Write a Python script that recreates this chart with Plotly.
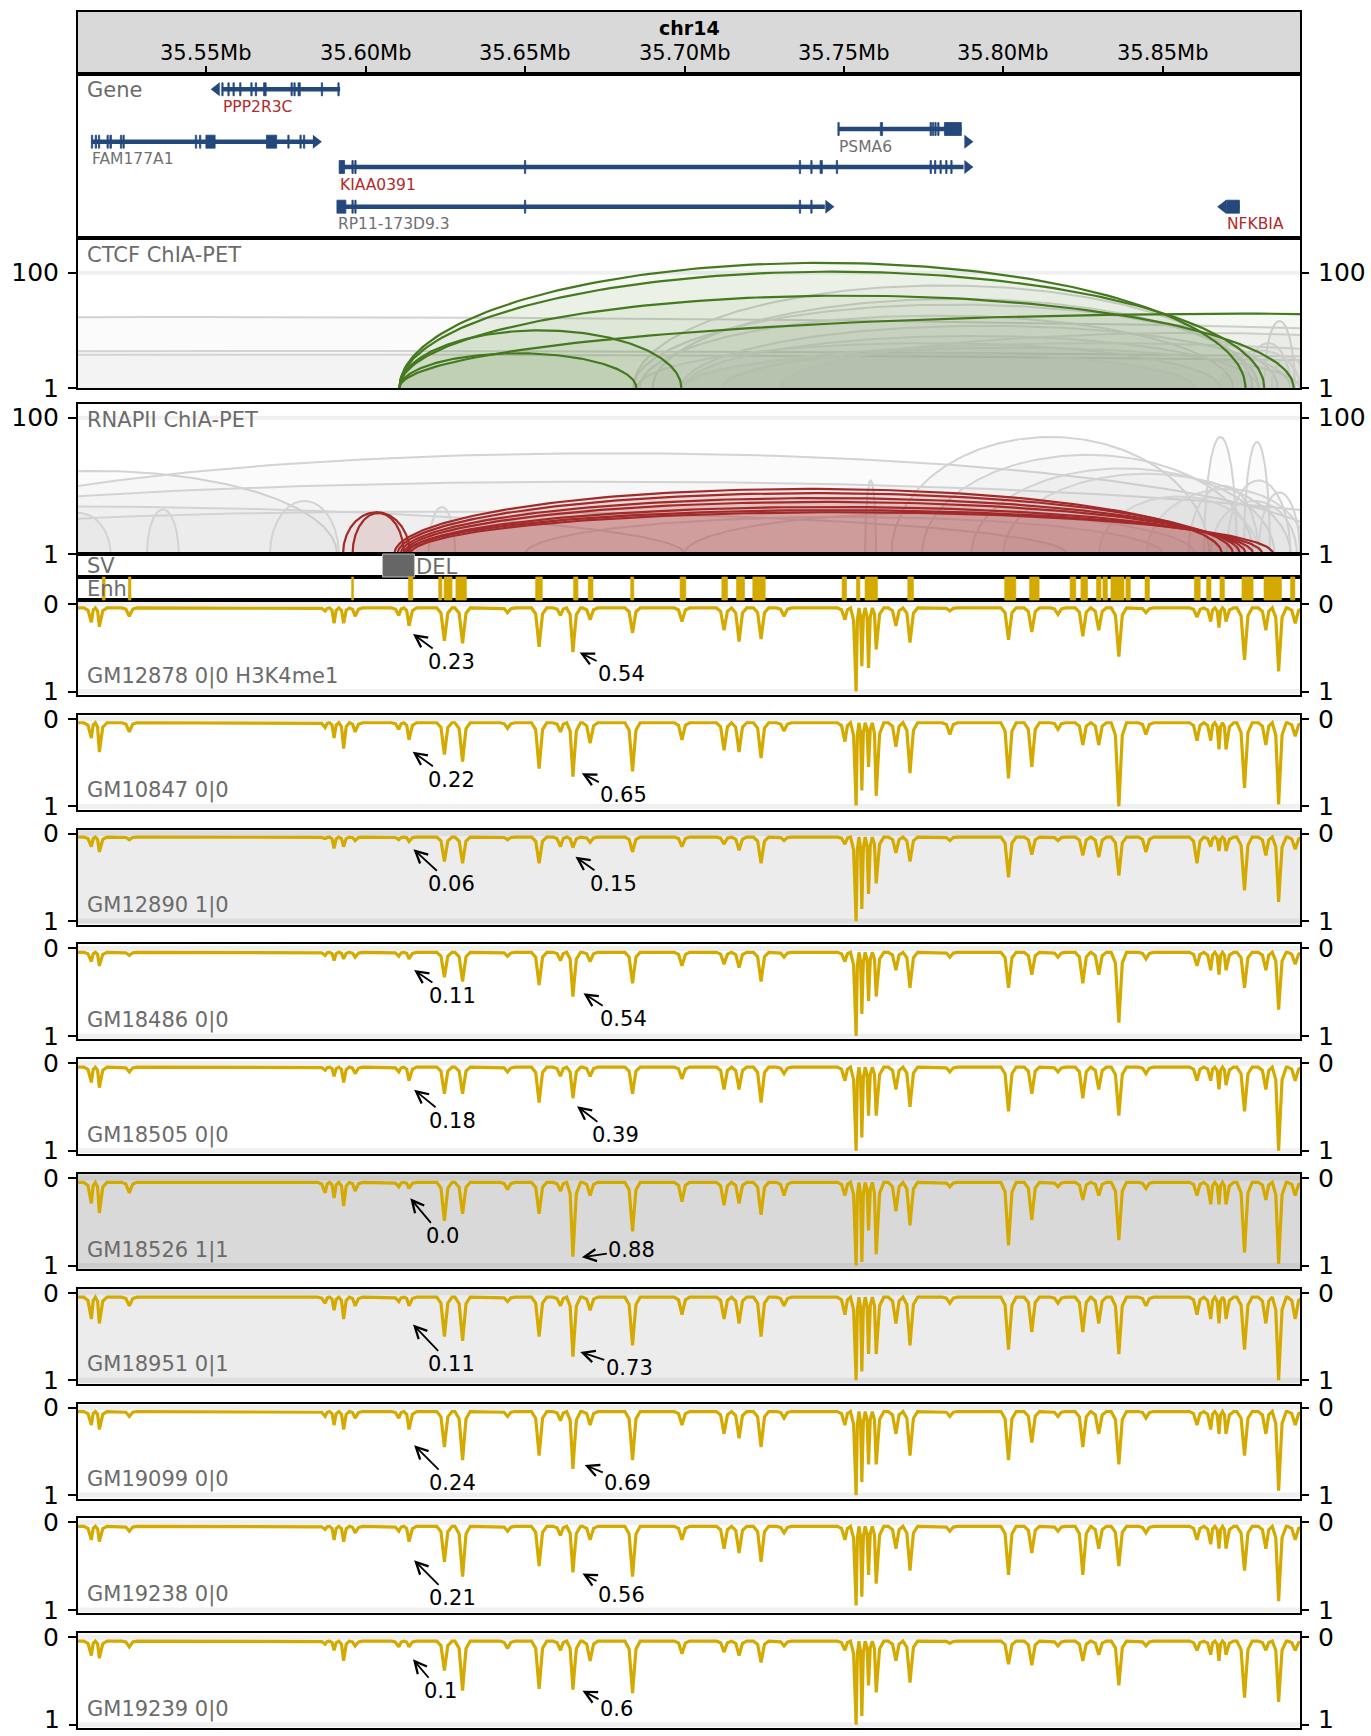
import math
import plotly.graph_objects as go

W, H = 1371, 1736
PLOT_L, PLOT_R = 78, 1300
X_RANGE = [35509.8, 35893.0]   # genomic window, kb on chr14
FONT = "DejaVu Sans"

# ---------------- header ticks ----------------
TICK_KB = [35550, 35600, 35650, 35700, 35750, 35800, 35850]
TICK_TXT = ["35.55Mb", "35.60Mb", "35.65Mb", "35.70Mb", "35.75Mb", "35.80Mb", "35.85Mb"]

# ---------------- genes ----------------
GENE_NAMES = ["PPP2R3C", "FAM177A1", "KIAA0391", "RP11-173D9.3", "PSMA6", "NFKBIA"]
GENE_START = [35554.9, 35514.0, 35591.7, 35591.0, 35748.1, 35869.9]
GENE_END = [35592.0, 35583.5, 35787.5, 35744.0, 35786.8, 35874.0]
GENE_LANE = [15.3, 67.7, 93.0, 132.7, 55.0, 132.7]
GENE_ARROW_KB = [35553.3, 35584.4, 35788.7, 35745.1, 35788.7, 35868.9]
GENE_ARROW_LANE = [15.3, 67.7, 93.0, 132.7, 67.7, 132.7]
GENE_STRAND = ["-", "+", "+", "+", "+", "-"]
GENE_LABEL_RED = [True, False, True, False, False, True]
GENE_EXONS = [
    [(35554.9, 35555.3), (35556.8, 35557.2), (35558.4, 35558.8), (35560.5, 35560.9), (35564.0, 35564.4),
     (35565.4, 35565.8), (35568.0, 35568.8), (35576.6, 35577.0), (35577.5, 35577.9), (35578.8, 35579.5),
     (35586.1, 35586.5), (35591.3, 35591.7)],
    [(35514.0, 35514.4), (35515.2, 35515.6), (35516.2, 35516.6), (35518.9, 35519.3), (35519.8, 35520.3),
     (35523.1, 35523.5), (35523.9, 35524.3), (35546.6, 35547.0), (35547.9, 35548.3), (35549.9, 35552.8),
     (35568.9, 35572.1), (35575.6, 35576.0), (35579.4, 35579.8), (35580.5, 35580.9)],
    [(35591.7, 35593.4), (35595.7, 35596.1), (35596.6, 35597.0), (35649.8, 35650.2), (35736.0, 35736.4),
     (35739.6, 35740.0), (35742.5, 35743.2), (35747.6, 35748.0), (35777.0, 35777.4), (35778.4, 35778.8),
     (35780.1, 35780.5), (35781.9, 35782.3), (35783.5, 35783.9)],
    [(35591.0, 35593.8), (35595.7, 35596.1), (35596.6, 35597.0), (35649.8, 35650.2), (35736.0, 35736.4),
     (35739.6, 35740.0)],
    [(35748.1, 35748.5), (35761.4, 35762.1), (35777.0, 35777.4), (35777.7, 35778.1), (35778.5, 35778.9),
     (35779.4, 35779.8), (35781.5, 35786.8)],
    [(35869.9, 35874.0)],
]

# ---------------- ChIA-PET loops: (anchor1 kb, anchor2 kb, PET count) ----------------
CTCF_GRAY = [(34900, 36200, 17), (34800, 36300, 4.4), (34850, 36250, 3.8),
             (35684, 35878, 60), (35690, 35880, 35), (35684, 35886, 28), (35686, 35872, 18),
             (35699, 35890, 12), (35700, 35880, 8), (35685, 35868, 6), (35712, 35893, 5),
             (35699, 35860, 4), (35730, 35990, 9), (35700, 35960, 6), (35881.7, 35891.4, 14.5),
             (35876, 35890, 6), (35884, 35895, 3.5), (35868, 35893, 4.5)]
CTCF_HIGHLIGHT = [(35610.6, 35684.9, 4.0), (35610.6, 35699.0, 10.0), (35610.6, 35875.9, 148),
                  (35610.6, 35881.8, 104), (35610.6, 35891.0, 40), (35610.6, 36150, 19.5)]
RNA_GRAY = [(35440, 35591, 16.5), (35450, 35905, 30), (35400, 35950, 11.5), (35300, 35700, 5),
            (35420, 35820, 4.2), (35570, 35591.6, 6), (35531.4, 35541.4, 4.5), (35500, 35520, 4),
            (35619.7, 35628.1, 4.9), (35764.9, 35864.5, 52), (35774.5, 35878.3, 28.5),
            (35790, 35885, 18), (35800, 35890, 15), (35862.9, 35873.2, 52), (35875.4, 35883.6, 44),
            (35858, 35880, 10), (35870, 35890, 12), (35880, 35893, 8), (35865, 35892, 6),
            (35756.6, 35760.1, 12), (35700, 35860, 4), (35650, 35850, 3.5), (35830, 35880, 7),
            (35845, 35895, 9)]
RNA_HIGHLIGHT = [(35592.9, 35613.9, 4.1), (35595.9, 35612.0, 4.0), (35609, 35868.5, 9.0),
                 (35610, 35872, 7.8), (35611, 35874.2, 6.6), (35612, 35876, 5.8), (35613, 35878.3, 4.9),
                 (35612.5, 35881.2, 4.4), (35614, 35884.6, 4.1)]

# ---------------- SV / enhancers ----------------
SV_START, SV_END = 35605.3, 35615.3
ENH = [(35517.4, 35518.3), (35525.6, 35526.4), (35595.6, 35596.2), (35613.4, 35614.8), (35622.9, 35623.9),
       (35624.6, 35627.1), (35628.3, 35631.6), (35653.3, 35655.4), (35665.2, 35666.6), (35669.8, 35671.3),
       (35683.1, 35684.1), (35698.6, 35700.4), (35711.7, 35713.5), (35716.3, 35718.8), (35721.4, 35725.3),
       (35749.4, 35750.8), (35753.9, 35755.0), (35756.6, 35760.5), (35770.0, 35771.8), (35800.4, 35803.9),
       (35808.2, 35811.2), (35820.9, 35822.7), (35824.3, 35826.4), (35829.2, 35830.6), (35831.2, 35832.6),
       (35833.7, 35837.8), (35838.4, 35839.8), (35844.4, 35845.8), (35859.9, 35861.7), (35863.7, 35865.1),
       (35867.9, 35869.3), (35874.8, 35878.3), (35881.7, 35887.2), (35890.0, 35891.4)]

# ---------------- signal tracks ----------------
PEAK_KB = [35514.0, 35516.5, 35525.9, 35587.3, 35590.1, 35593.1, 35596.7, 35610.4, 35613.6, 35624.7,
           35630.4, 35644.5, 35654.4, 35661.1, 35665.0, 35670.4, 35683.7, 35699.2, 35712.4, 35717.1,
           35724.0, 35731.2, 35750.3, 35753.8, 35755.6, 35757.7, 35760.1, 35766.3, 35770.7, 35783.2,
           35801.6, 35808.9, 35817.1, 35824.9, 35829.9, 35836.2, 35844.7, 35860.7, 35865.0, 35867.6,
           35869.8, 35875.6, 35882.3, 35886.3, 35891.5]
TRACK_NAMES = ["GM12878 0|0 H3K4me1", "GM10847 0|0", "GM12890 1|0", "GM18486 0|0", "GM18505 0|0",
               "GM18526 1|1", "GM18951 0|1", "GM19099 0|0", "GM19238 0|0", "GM19239 0|0"]
TRACK_BASE = [0.045, 0.045, 0.04, 0.045, 0.045, 0.05, 0.05, 0.045, 0.045, 0.045]
TRACK_DEPTH = [
    [0.21, 0.26, 0.14, 0.08, 0.22, 0.22, 0.14, 0.13, 0.25, 0.42, 0.45, 0.10, 0.49, 0.13, 0.55, 0.18, 0.33, 0.20, 0.30, 0.43,
     0.40, 0.14, 0.18, 1.00, 0.71, 0.73, 0.52, 0.25, 0.44, 0.08, 0.41, 0.32, 0.12, 0.37, 0.30, 0.60, 0.10, 0.15, 0.20, 0.27,
     0.20, 0.64, 0.30, 0.77, 0.22],
    [0.22, 0.38, 0.15, 0.10, 0.22, 0.34, 0.15, 0.12, 0.24, 0.41, 0.49, 0.11, 0.57, 0.15, 0.66, 0.28, 0.60, 0.24, 0.36, 0.38,
     0.45, 0.14, 0.26, 0.99, 0.82, 0.55, 0.88, 0.32, 0.62, 0.18, 0.68, 0.55, 0.12, 0.30, 0.30, 1.00, 0.18, 0.25, 0.25, 0.35,
     0.35, 0.79, 0.30, 0.98, 0.20],
    [0.15, 0.21, 0.07, 0.06, 0.17, 0.15, 0.08, 0.07, 0.09, 0.32, 0.34, 0.07, 0.34, 0.15, 0.16, 0.10, 0.21, 0.15, 0.12, 0.19,
     0.34, 0.08, 0.12, 1.00, 0.86, 0.69, 0.57, 0.22, 0.32, 0.08, 0.50, 0.24, 0.08, 0.25, 0.27, 0.48, 0.21, 0.34, 0.15, 0.20,
     0.20, 0.65, 0.25, 0.78, 0.18],
    [0.15, 0.20, 0.08, 0.08, 0.14, 0.12, 0.10, 0.09, 0.12, 0.33, 0.38, 0.09, 0.42, 0.14, 0.55, 0.15, 0.40, 0.20, 0.18, 0.22,
     0.38, 0.10, 0.15, 1.00, 0.75, 0.60, 0.55, 0.25, 0.45, 0.10, 0.45, 0.30, 0.10, 0.40, 0.30, 0.85, 0.12, 0.20, 0.25, 0.30,
     0.25, 0.45, 0.25, 0.70, 0.18],
    [0.22, 0.28, 0.10, 0.08, 0.15, 0.22, 0.12, 0.10, 0.20, 0.35, 0.35, 0.10, 0.45, 0.15, 0.40, 0.15, 0.35, 0.18, 0.30, 0.30,
     0.45, 0.12, 0.20, 1.00, 0.85, 0.60, 0.60, 0.30, 0.50, 0.10, 0.55, 0.35, 0.10, 0.40, 0.30, 0.60, 0.12, 0.20, 0.20, 0.30,
     0.25, 0.55, 0.30, 1.00, 0.20],
    [0.29, 0.40, 0.17, 0.17, 0.23, 0.32, 0.15, 0.10, 0.12, 0.49, 0.41, 0.13, 0.41, 0.15, 0.90, 0.20, 0.61, 0.27, 0.31, 0.29,
     0.42, 0.20, 0.20, 1.00, 0.96, 0.60, 0.87, 0.38, 0.54, 0.10, 0.77, 0.48, 0.10, 0.25, 0.20, 0.71, 0.12, 0.20, 0.30, 0.30,
     0.30, 0.85, 0.25, 0.98, 0.20],
    [0.30, 0.35, 0.15, 0.12, 0.20, 0.30, 0.15, 0.10, 0.15, 0.50, 0.55, 0.10, 0.50, 0.15, 0.73, 0.20, 0.60, 0.25, 0.30, 0.35,
     0.50, 0.15, 0.25, 1.00, 0.90, 0.70, 0.70, 0.35, 0.60, 0.12, 0.65, 0.45, 0.12, 0.45, 0.35, 0.70, 0.15, 0.25, 0.30, 0.35,
     0.30, 0.65, 0.35, 1.00, 0.30],
    [0.20, 0.25, 0.10, 0.10, 0.20, 0.25, 0.12, 0.12, 0.25, 0.45, 0.60, 0.10, 0.55, 0.15, 0.70, 0.20, 0.60, 0.20, 0.30, 0.35,
     0.45, 0.12, 0.20, 1.00, 0.85, 0.65, 0.65, 0.30, 0.55, 0.10, 0.60, 0.40, 0.10, 0.45, 0.30, 0.65, 0.12, 0.20, 0.25, 0.30,
     0.30, 0.55, 0.30, 0.95, 0.20],
    [0.20, 0.22, 0.10, 0.08, 0.20, 0.22, 0.12, 0.10, 0.22, 0.45, 0.62, 0.10, 0.50, 0.15, 0.57, 0.20, 0.62, 0.20, 0.30, 0.35,
     0.45, 0.12, 0.20, 0.95, 0.85, 0.60, 0.70, 0.30, 0.55, 0.10, 0.60, 0.35, 0.10, 0.60, 0.30, 0.50, 0.12, 0.20, 0.25, 0.30,
     0.30, 0.55, 0.30, 0.90, 0.20],
    [0.21, 0.24, 0.11, 0.08, 0.15, 0.27, 0.10, 0.11, 0.11, 0.38, 0.61, 0.13, 0.59, 0.15, 0.60, 0.27, 0.64, 0.19, 0.17, 0.21,
     0.29, 0.10, 0.15, 1.00, 0.90, 0.55, 0.63, 0.27, 0.52, 0.07, 0.31, 0.32, 0.10, 0.27, 0.20, 0.55, 0.10, 0.15, 0.20, 0.27,
     0.20, 0.69, 0.15, 0.74, 0.15],
]
# allele-specific values annotated at the two marked enhancers
ANN_A_TXT = ["0.23", "0.22", "0.06", "0.11", "0.18", "0.0", "0.11", "0.24", "0.21", "0.1"]
ANN_B_TXT = ["0.54", "0.65", "0.15", "0.54", "0.39", "0.88", "0.73", "0.69", "0.56", "0.6"]
ANN_A_KB = [35614.85, 35614.75, 35615.0, 35615.2, 35615.2, 35614.0, 35614.85, 35615.2, 35615.2, 35614.85]
ANN_A_VAL = [0.342, 0.376, 0.179, 0.247, 0.303, 0.232, 0.362, 0.429, 0.433, 0.252]
ANN_B_KB = [35667.1, 35667.8, 35665.8, 35668.3, 35666.3, 35667.8, 35667.3, 35668.7, 35668.0, 35668.0]
ANN_B_VAL = [0.555, 0.622, 0.264, 0.513, 0.492, 0.905, 0.676, 0.655, 0.584, 0.611]

# ---------------- styling ----------------
ANN_A_OFF = [(38, 28), (39, 28), (38, 35), (38, 26), (38, 31), (32, 38), (38, 40), (38, 38), (38, 38), (27, 32)]
ANN_B_OFF = [(42, 21), (42, 22), (38, 27), (40, 26), (38, 29), (50, -7), (49, 16), (43, 18), (39, 21), (34, 18)]
PEAK_HALF_WIDTH = 2.4          # kb, drawing width of a dip
PEAK_PROFILE_OFF = [-1.0, -0.45, -0.15, 0.0, 0.15, 0.45, 1.0]
PEAK_PROFILE_FRAC = [0.0, 0.15, 0.7, 1.0, 0.7, 0.15, 0.0]
ARC_SHAPE_EXP = 0.5
GENE_C = "#24487c"
SIG_C = "#d4aa00"
LBL_C = "#6b6b6b"
RED_TXT = "#b22a2a"
BG_BY_GT = {"0|0": "white", "1|0": "#ececec", "0|1": "#ececec", "1|1": "#d9d9d9"}

panels = [("header", 12, 74), ("gene", 74, 238), ("ctcf", 238, 388), ("rna", 404, 554),
          ("sv", 554, 577), ("enh", 577, 600)]
for i in range(10):
    panels.append((f"t{i}", 600 + 114.8 * i, 695 + 114.8 * i))


def xr(i):
    return "x" if i == 1 else f"x{i}"


def yr(i):
    return "y" if i == 1 else f"y{i}"


def axkey(kind, i):
    return f"{kind}axis" if i == 1 else f"{kind}axis{i}"


fig = go.Figure()
layout = dict(width=W, height=H, margin=dict(l=0, r=0, t=0, b=0, pad=0, autoexpand=False),
              paper_bgcolor="white", plot_bgcolor="white", showlegend=False, hovermode=False,
              font=dict(family=FONT, color="black"))
shapes = []
annotations = []

for i, (name, top, bot) in enumerate(panels, start=1):
    layout[axkey("x", i)] = dict(domain=[PLOT_L / W, PLOT_R / W], anchor=yr(i), range=X_RANGE,
                                 showgrid=False, zeroline=False, showticklabels=False, ticks="",
                                 showline=True, mirror=True, linecolor="black", linewidth=2,
                                 automargin=False)
    layout[axkey("y", i)] = dict(domain=[1 - bot / H, 1 - top / H], anchor=xr(i), showgrid=False,
                                 zeroline=False, showline=True, mirror=True, linecolor="black",
                                 linewidth=2, showticklabels=False, ticks="", range=[0, 1],
                                 automargin=False)

# header
layout["xaxis"].update(ticks="inside", ticklen=8, tickwidth=1.5, tickcolor="black", tickvals=TICK_KB)
shapes.append(dict(type="rect", xref="x domain", yref="y domain", x0=0, x1=1, y0=0, y1=1,
                   fillcolor="#d9d9d9", line=dict(width=0), layer="below"))
for tk, tt in zip(TICK_KB, TICK_TXT):
    annotations.append(dict(x=tk, xref="x", y=1 - 53 / H, yref="paper", text=tt, showarrow=False,
                            font=dict(size=21, color="black"), xanchor="center", yanchor="middle"))
annotations.append(dict(x=(PLOT_L + PLOT_R) / 2 / W, xref="paper", y=1 - 28 / H, yref="paper",
                        text="<b>chr14</b>", showarrow=False, font=dict(size=19, color="black"),
                        xanchor="center", yanchor="middle"))

# genes (panel 2)
layout["yaxis2"].update(range=[164, 0])
for g in range(len(GENE_NAMES)):
    lane = GENE_LANE[g]
    fig.add_trace(go.Scatter(x=[GENE_START[g], GENE_END[g]], y=[lane, lane], mode="lines",
                             line=dict(color=GENE_C, width=4.5), xaxis="x2", yaxis="y2"))
    for (s, e) in GENE_EXONS[g]:
        shapes.append(dict(type="rect", xref="x2", yref="y2", x0=s, x1=e, y0=lane - 6.5, y1=lane + 6.5,
                           fillcolor=GENE_C, line=dict(color=GENE_C, width=0.8)))
    sym = "triangle-right" if GENE_STRAND[g] == "+" else "triangle-left"
    fig.add_trace(go.Scatter(x=[GENE_ARROW_KB[g]], y=[GENE_ARROW_LANE[g]], mode="markers",
                             marker=dict(symbol=sym, size=12, color=GENE_C, line=dict(width=0)),
                             xaxis="x2", yaxis="y2"))
    annotations.append(dict(x=GENE_START[g], xref="x2", y=lane + 17.5, yref="y2", text=GENE_NAMES[g],
                            showarrow=False, xanchor="left", yanchor="middle", xshift=-1,
                            font=dict(size=15.5, color=RED_TXT if GENE_LABEL_RED[g] else "#707070")))
annotations.append(dict(x=84.5 / W, xref="paper", y=1 - 90.5 / H, yref="paper", text="Gene",
                        showarrow=False, xanchor="left", yanchor="middle", font=dict(size=21, color=LBL_C)))


def arc_points(s, e, h, n=140):
    c = (s + e) / 2.0
    r = (e - s) / 2.0
    xs, ys = [], []
    for k in range(n + 1):
        t = -math.cos(math.pi * k / n)
        xs.append(c + r * t)
        ys.append(h ** (max(0.0, 1 - t * t) ** ARC_SHAPE_EXP))
    return xs, ys


def add_arcs(arcs, pidx, line_c, fill_c, width):
    for (s, e, h) in arcs:
        xs, ys = arc_points(s, e, h)
        fig.add_trace(go.Scatter(x=xs, y=ys, mode="lines", fill="toself", fillcolor=fill_c,
                                 line=dict(color=line_c, width=width), xaxis=xr(pidx), yaxis=yr(pidx)))


extra_idx = len(panels) + 1


def add_overlay_axis(pidx, base_axis, side, tickvals=None, ticktext=None, shift=None):
    """Extra y axis on top of panel pidx (used for right-hand tick labels)."""
    global extra_idx
    ax = dict(base_axis)
    for k in ("domain", "showline", "mirror", "linecolor", "linewidth"):
        ax.pop(k, None)
    ax.update(overlaying=yr(pidx), side=side, anchor=xr(pidx), showline=False, automargin=False)
    if tickvals is not None:
        ax.update(tickvals=tickvals, ticktext=ticktext)
    if shift is not None:
        ax.update(ticklabelshift=shift)
    layout[axkey("y", extra_idx)] = ax
    fig.add_trace(go.Scatter(x=[X_RANGE[0]], y=[ax["tickvals"][0]], mode="markers",
                             marker=dict(opacity=0), xaxis=xr(pidx), yaxis=yr(extra_idx)))
    extra_idx += 1


tick_style = dict(ticks="outside", ticklen=8, tickwidth=1.5, tickcolor="black", showticklabels=True,
                  tickfont=dict(size=25, color="black", family=FONT), ticklabeloverflow="allow",
                  ticklabelstandoff=4)

# CTCF (panel 3) and RNAPII (panel 4)
for pidx, top_dec, gray, gray_f, hi, hc, hf, title, title_y in [
        (3, 2.602, CTCF_GRAY, "rgba(190,190,190,0.055)", CTCF_HIGHLIGHT, "#44791e", "rgba(68,121,30,0.055)",
         "CTCF ChIA-PET", 255),
        (4, 2.2, RNA_GRAY, "rgba(190,190,190,0.065)", RNA_HIGHLIGHT, "#a32a2a", "rgba(163,42,42,0.07)",
         "RNAPII ChIA-PET", 420)]:
    layout[axkey("y", pidx)].update(type="log", range=[0, top_dec], tickvals=[1, 100], ticktext=["1", "100"],
                                    **tick_style)
    fig.add_trace(go.Scatter(x=X_RANGE, y=[100, 100], mode="lines",
                             line=dict(color="rgba(0,0,0,0.06)", width=4), xaxis=xr(pidx), yaxis=yr(pidx)))
    add_arcs(gray, pidx, "#d3d3d3", gray_f, 2)
    add_arcs(hi, pidx, hc, hf, 2.2)
    add_overlay_axis(pidx, layout[axkey("y", pidx)], "right")
    annotations.append(dict(x=84.5 / W, xref="paper", y=1 - title_y / H, yref="paper", text=title,
                            showarrow=False, xanchor="left", yanchor="middle",
                            font=dict(size=21, color=LBL_C)))

# SV (panel 5)
shapes.append(dict(type="rect", xref="x5", yref="y5 domain", x0=SV_START, x1=SV_END, y0=0, y1=1,
                   fillcolor="#666666", line=dict(color="#bbbbbb", width=1)))
annotations.append(dict(x=84.5 / W, xref="paper", y=1 - 566 / H, yref="paper", text="SV", showarrow=False,
                        xanchor="left", yanchor="middle", font=dict(size=21, color=LBL_C)))
annotations.append(dict(x=SV_END, xref="x5", y=1 - 567 / H, yref="paper", text="DEL", showarrow=False,
                        xanchor="left", yanchor="middle", xshift=0, font=dict(size=21, color=LBL_C)))

# Enhancers (panel 6)
for (s, e) in ENH:
    shapes.append(dict(type="rect", xref="x6", yref="y6 domain", x0=s, x1=e, y0=0, y1=1,
                       fillcolor=SIG_C, line=dict(color=SIG_C, width=0.6)))
annotations.append(dict(x=84.5 / W, xref="paper", y=1 - 589 / H, yref="paper", text="Enh", showarrow=False,
                        xanchor="left", yanchor="middle", font=dict(size=21, color=LBL_C)))


def signal_path(depths, base):
    xs, ys = [X_RANGE[0]], [base]
    n = len(PEAK_KB)
    for i, (c, d) in enumerate(zip(PEAK_KB, depths)):
        prev = PEAK_KB[i - 1] if i > 0 else -1e9
        nxt = PEAK_KB[i + 1] if i < n - 1 else 1e9
        wl = min(PEAK_HALF_WIDTH, (c - prev) / 2.0)
        wr = min(PEAK_HALF_WIDTH, (nxt - c) / 2.0)
        for off, frac in zip(PEAK_PROFILE_OFF, PEAK_PROFILE_FRAC):
            w = wl if off < 0 else wr
            xs.append(c + off * w)
            ys.append(base + frac * (d - base))
    xs.append(X_RANGE[1])
    ys.append(base)
    return xs, ys


# signal tracks (panels 7..16)
for t in range(10):
    pidx = 7 + t
    top, bot = panels[pidx - 1][1], panels[pidx - 1][2]
    gt = TRACK_NAMES[t].split()[1]
    layout[axkey("y", pidx)].update(range=[1.04, -0.0457], tickvals=[0, 1], ticktext=["0", "1"], **tick_style)
    shapes.append(dict(type="rect", xref=f"{xr(pidx)} domain", yref=f"{yr(pidx)} domain", x0=0, x1=1, y0=0, y1=1,
                       fillcolor=BG_BY_GT[gt], line=dict(width=0), layer="below"))
    for yv in (0, 1):
        fig.add_trace(go.Scatter(x=X_RANGE, y=[yv, yv], mode="lines",
                                 line=dict(color="rgba(0,0,0,0.06)", width=5), xaxis=xr(pidx), yaxis=yr(pidx)))
    xs, ys = signal_path(TRACK_DEPTH[t], TRACK_BASE[t])
    fig.add_trace(go.Scatter(x=xs, y=ys, mode="lines", line=dict(color=SIG_C, width=3.2, shape="linear"),
                             xaxis=xr(pidx), yaxis=yr(pidx)))
    base_ax = dict(layout[axkey("y", pidx)])
    if t == 9:
        # bottom panel: lift only the "1" labels so they stay inside the page
        layout[axkey("y", pidx)].update(tickvals=[0], ticktext=["0"])
        add_overlay_axis(pidx, base_ax, "left", [1], ["1"], 5)
        add_overlay_axis(pidx, base_ax, "right", [0], ["0"])
        add_overlay_axis(pidx, base_ax, "right", [1], ["1"], 5)
    else:
        add_overlay_axis(pidx, base_ax, "right")
    annotations.append(dict(x=84.5 / W, xref="paper", y=1 - (bot - 19) / H, yref="paper", text=TRACK_NAMES[t],
                            showarrow=False, xanchor="left", yanchor="middle", font=dict(size=21, color=LBL_C)))
    for kb, val, txt, off in [(ANN_A_KB[t], ANN_A_VAL[t], ANN_A_TXT[t], ANN_A_OFF[t]),
                              (ANN_B_KB[t], ANN_B_VAL[t], ANN_B_TXT[t], ANN_B_OFF[t])]:
        annotations.append(dict(x=kb, xref=xr(pidx), y=val, yref=yr(pidx), text=txt, showarrow=True,
                                ax=off[0], ay=off[1], arrowhead=5, arrowsize=1.3, arrowwidth=1.8,
                                arrowcolor="black", standoff=0, font=dict(size=21, color="black")))

layout["shapes"] = shapes
layout["annotations"] = annotations
fig.update_layout(**layout)
fig.write_html("out.html")
